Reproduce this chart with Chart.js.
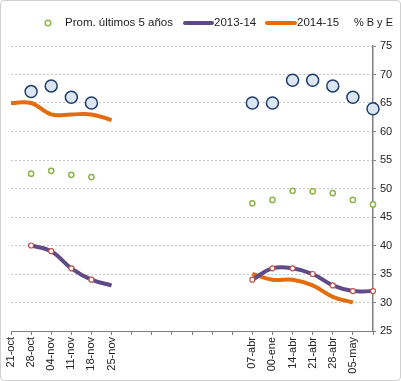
<!DOCTYPE html>
<html>
<head>
<meta charset="utf-8">
<script src="https://cdn.jsdelivr.net/npm/chart.js@4.4.1/dist/chart.umd.min.js"></script>
<style>
    html, body { margin: 0; padding: 0; background: #fff; }
    #marco {
        width: 401px; height: 381px; box-sizing: border-box;
        border: 1px solid #d0d0d0; border-radius: 4px; position: relative;
    }
    #grafico { display: block; }
</style>
</head>
<body>
<div id="marco"><canvas id="grafico" width="399" height="379"></canvas></div>
<script>
// etiquetas del eje x (semanas)
var semanas = ['21-oct', '28-oct', '04-nov', '11-nov', '18-nov', '25-nov',
    '', '', '', '', '', '',
    '07-abr', '00-ene', '14-abr', '21-abr', '28-abr', '05-may', ''];

var promedio5 = [null, 52.6, 53.1, 52.4, 52.0, null,
    null, null, null, null, null, null,
    47.4, 48.0, 49.6, 49.5, 49.2, 48.0, 47.2];

var temporada1314 = [null, 40, 39, 36, 34, 33,
    null, null, null, null, null, null,
    34, 36, 36, 35, 33, 32, 32];

var temporada1415 = [65, 65, 63, 63, 63, 62,
    null, null, null, null, null, null,
    35, 34, 34, 33, 31, 30, null];

var condicionBE = [null, 67, 68, 66, 65, null,
    null, null, null, null, null, null,
    65, 65, 69, 69, 68, 66, 64];

var ticksY = [25, 30, 35, 40, 45, 50, 55, 60, 65, 70, 75];

var fuente = "'Liberation Sans', Arial, sans-serif";
Chart.defaults.font.family = fuente;
Chart.defaults.font.size = 11;
Chart.defaults.color = '#222';

// sin marcador en el ultimo punto de noviembre
var radios1314 = temporada1314.map(function (v, i) { return i === 5 ? 0 : 2.5; });

// leyenda y titulo del eje dibujados a mano
var leyendaManual = {
    id: 'leyendaManual',
    afterDraw: function (chart) {
        var ctx = chart.ctx;
        var yl = 22;
        ctx.save();
        ctx.font = '11.5px ' + fuente;
        ctx.fillStyle = '#222';
        ctx.textBaseline = 'middle';
        ctx.textAlign = 'left';

        // Prom. ultimos 5 años
        ctx.beginPath();
        ctx.arc(47, yl, 2.8, 0, Math.PI * 2);
        ctx.fillStyle = '#ffffff';
        ctx.fill();
        ctx.lineWidth = 1.5;
        ctx.strokeStyle = '#8eb44a';
        ctx.stroke();
        ctx.fillStyle = '#222';
        ctx.fillText('Prom. últimos 5 años', 64, yl);

        // 2013-14
        ctx.lineCap = 'round';
        ctx.lineWidth = 4;
        ctx.strokeStyle = '#5f4a87';
        ctx.beginPath();
        ctx.moveTo(184, yl);
        ctx.lineTo(211, yl);
        ctx.stroke();
        ctx.fillText('2013-14', 213, yl);

        // 2014-15
        ctx.strokeStyle = '#e46c0a';
        ctx.beginPath();
        ctx.moveTo(266, yl);
        ctx.lineTo(294, yl);
        ctx.stroke();
        ctx.fillText('2014-15', 296, yl);

        ctx.font = '11px ' + fuente;
        ctx.textAlign = 'right';
        ctx.fillText('% B y E', chart.width - 7, yl);
        ctx.restore();
    }
};

var myChart = new Chart(document.getElementById('grafico').getContext('2d'), {
    type: 'line',
    data: {
        labels: semanas,
        datasets: [
            {
                label: 'Prom. últimos 5 años',
                data: promedio5,
                showLine: false,
                pointRadius: 2.6,
                pointBorderWidth: 1.5,
                pointBorderColor: '#8eb44a',
                pointBackgroundColor: '#ffffff',
                borderColor: '#8eb44a',
                order: 1
            },
            {
                label: '2013-14',
                data: temporada1314,
                borderColor: '#5f4a87',
                backgroundColor: '#5f4a87',
                borderWidth: 4,
                tension: 0.4,
                pointRadius: radios1314,
                pointBorderWidth: 1.2,
                pointBorderColor: '#c0504d',
                pointBackgroundColor: '#ffffff',
                order: 2
            },
            {
                label: '2014-15',
                data: temporada1415,
                borderColor: '#e46c0a',
                backgroundColor: '#e46c0a',
                borderWidth: 4,
                tension: 0.4,
                pointRadius: 0,
                order: 3
            },
            {
                label: 'B y E',
                data: condicionBE,
                showLine: false,
                pointRadius: 6,
                pointBorderWidth: 1.5,
                pointBorderColor: '#1f3d6b',
                pointBackgroundColor: '#dce6f2',
                borderColor: '#1f3d6b',
                order: 0
            }
        ]
    },
    options: {
        responsive: false,
        animation: false,
        layout: { padding: { left: 10, right: 7, top: 45, bottom: 4 } },
        plugins: {
            tooltip: { enabled: false },
            legend: { display: false }
        },
        scales: {
            x: {
                offset: false,
                afterFit: function (scale) { scale.height = 45; },
                border: { color: '#808080', width: 1 },
                grid: { display: true, drawOnChartArea: false, drawTicks: true, tickLength: 4, color: '#808080' },
                ticks: { autoSkip: false, maxRotation: 90, minRotation: 90, padding: 2, color: '#222', font: { size: 11 } }
            },
            y: {
                position: 'right',
                min: 25,
                max: 75,
                afterFit: function (scale) { scale.width = 20; },
                afterBuildTicks: function (scale) {
                    scale.ticks = ticksY.map(function (v) { return { value: v }; });
                },
                border: {
                    color: '#808080',
                    width: 1.5,
                    // punteado solo en la cuadricula, no en el eje
                    dash: function (c) { return c.type === 'tick' ? [2, 2] : []; }
                },
                grid: {
                    color: function (c) { return c.tick && c.tick.value === 25 ? 'rgba(0,0,0,0)' : '#c8c8c8'; },
                    tickColor: '#808080',
                    tickBorderDash: [],
                    tickLength: 3
                },
                ticks: { padding: 4, color: '#222', font: { size: 11 } }
            }
        }
    },
    plugins: [leyendaManual]
});
</script>
</body>
</html>
